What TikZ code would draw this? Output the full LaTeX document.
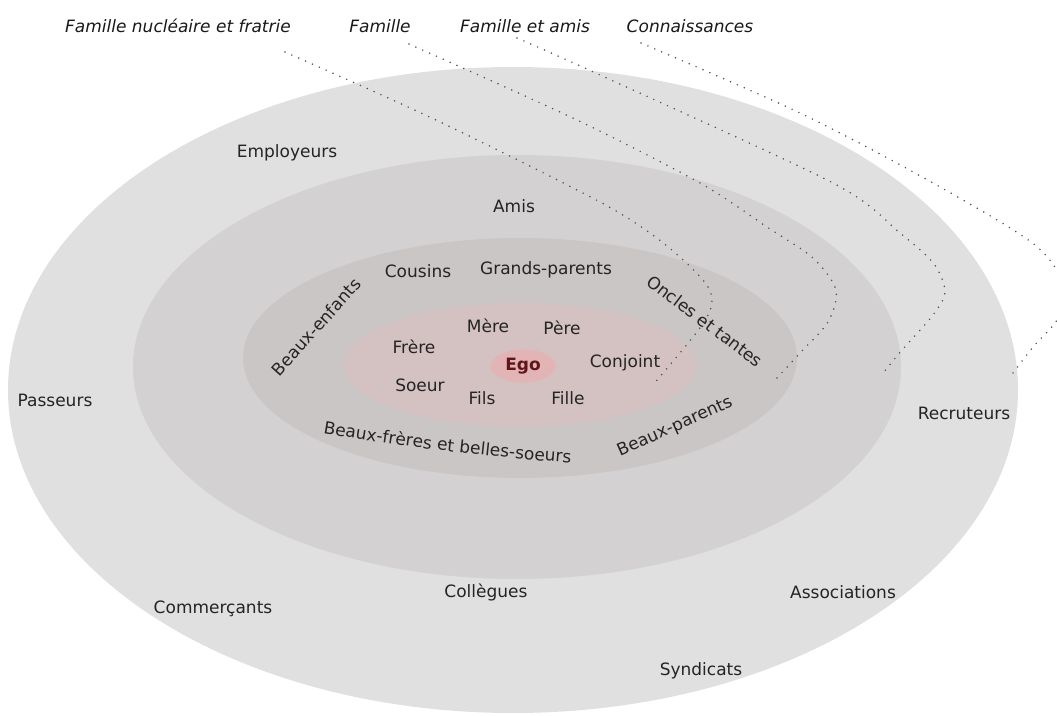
\documentclass[tikz,border=0pt]{standalone}
\usepackage{fontspec}
\setmainfont{DejaVu Sans}
\usepackage{xcolor}
\usepackage{tikz}
\usetikzlibrary{shapes.geometric, decorations.text}
\definecolor{ringout}{RGB}{224, 224, 224}
\definecolor{ringamis}{RGB}{211, 209, 209}
\definecolor{ringfam}{RGB}{202, 198, 198}
\definecolor{ringnuc}{RGB}{212, 193, 194}
\definecolor{egofill}{RGB}{227, 180, 182}
\definecolor{egotext}{RGB}{96, 22, 26}
\definecolor{lbltext}{RGB}{36, 36, 36}
\definecolor{guidegray}{RGB}{80, 80, 80}

\begin{document}
\begin{tikzpicture}[x=1pt, y=-1pt,
  lbl/.style={font=\fontsize{17}{20}\selectfont, text=lbltext, inner sep=0pt, anchor=base},
  cat/.style={font=\fontsize{17}{20}\selectfont\itshape, text=black!90, inner sep=0pt, anchor=base},
  guide/.style={guidegray, line width=1.7pt, line cap=round, dash pattern=on 0pt off 7.5pt}]
\useasboundingbox (0,0) rectangle (1057,715);
\clip (0,0) rectangle (1057,715);
\fill[ringout] (513,390) ellipse [x radius=505, y radius=323];
\fill[ringamis] (517,367) ellipse [x radius=384, y radius=212];
\fill[ringfam] (520,358) ellipse [x radius=277, y radius=120];
\fill[ringnuc] (520,365) ellipse [x radius=176, y radius=62];
\node[ellipse, fill=egofill, inner sep=0pt, minimum width=65pt, minimum height=33pt,
  font=\fontsize{17}{20}\selectfont\bfseries, text=egotext] (ego) at (523,366) {Ego};

\node[cat] (nucleaire) at (178,32) {Famille nucléaire et fratrie};
\node[cat] (famille) at (380,32) {Famille};
\node[cat] (familleamis) at (525,32) {Famille et amis};
\node[cat] (connaissances) at (690,32) {Connaissances};

\coordinate (nucend) at (652,386);
\coordinate (famend) at (777,378);
\coordinate (amisend) at (883,373);
\coordinate (connend) at (1010,377);
\draw[guide] plot[smooth, tension=0.5] coordinates {(285,52) (436,120) (600,202) (662,242) (703,280) (712,302) (700,328) (nucend)};
\draw[guide] plot[smooth, tension=0.5] coordinates {(409,44) (577,120) (700,183) (767,227) (813,258) (836,290) (828,322) (800,353) (famend)};
\draw[guide] plot[smooth, tension=0.5] coordinates {(517,38) (600,75) (833,183) (900,233) (934,264) (945,292) (933,315) (902,350) (amisend)};
\draw[guide] plot[smooth, tension=0.5] coordinates {(641,43) (800,113) (933,183) (1035,245) (1066,290) (1057,320) (1033,347) (connend)};

\node[lbl] (employeurs) at (287,157) {Employeurs};
\node[lbl] (passeurs) at (55,406) {Passeurs};
\node[lbl] (recruteurs) at (964,419) {Recruteurs};
\node[lbl] (commercants) at (213,613) {Commerçants};
\node[lbl] (collegues) at (486,597) {Collègues};
\node[lbl] (associations) at (843,598) {Associations};
\node[lbl] (syndicats) at (701,675) {Syndicats};
\node[lbl] (amis) at (514,212) {Amis};

\node[lbl] (cousins) at (418,277) {Cousins};
\node[lbl] (grandsparents) at (546,274) {Grands-parents};
\node[lbl, anchor=center, rotate=48] (beauxenfants) at (316,327) {Beaux-enfants};
\node[lbl, anchor=center, rotate=-37] (oncles) at (705,321) {Oncles et tantes};
\node[lbl, anchor=center, rotate=24] (beauxparents) at (675,427) {Beaux-parents};
\path[decorate, decoration={text along path, text color=lbltext, text align=center,
  text={|\fontsize{17}{20}\selectfont|Beaux-frères et belles-soeurs}}]
  (322,433) .. controls (404,447) and (488,457) .. (572,463);

\node[lbl] (mere) at (488,332) {Mère};
\node[lbl] (pere) at (562,334) {Père};
\node[lbl] (frere) at (414,353) {Frère};
\node[lbl] (conjoint) at (625,367) {Conjoint};
\node[lbl] (soeur) at (420,391) {Soeur};
\node[lbl] (fils) at (482,404) {Fils};
\node[lbl] (fille) at (568,404) {Fille};
\end{tikzpicture}
\end{document}
